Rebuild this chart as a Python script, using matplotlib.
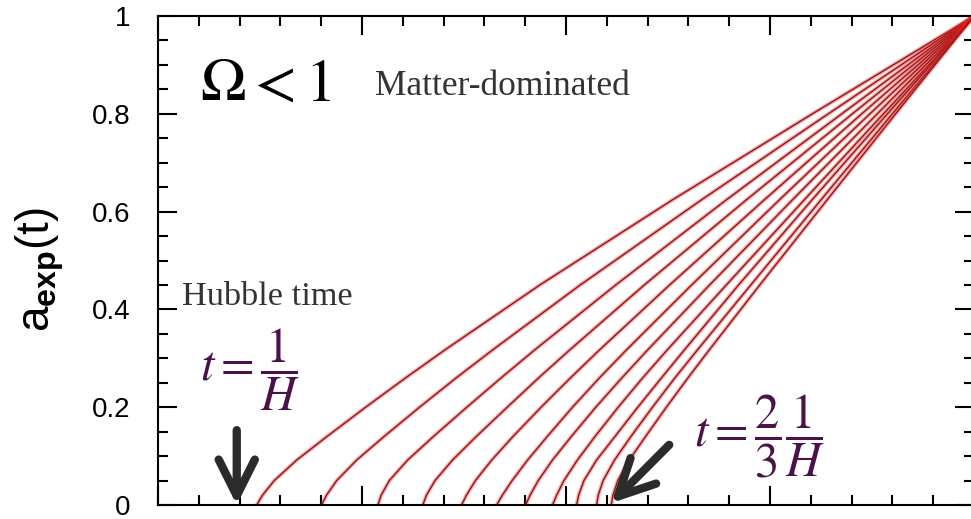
import numpy as np
import matplotlib.pyplot as plt
from matplotlib.ticker import MultipleLocator

a_levels = [0.0, 0.02, 0.05, 0.092, 0.14, 0.2, 0.26, 0.317, 0.45, 0.624, 0.8, 1.0]

# time (in minor-tick units, axis runs 0..20) of each of the 11 curves at those levels
t_a000 = [2.42, 4.01, 5.39, 6.49, 7.44, 8.30, 9.01, 9.67, 10.26, 10.75, 11.11]
t_a002 = [2.56, 4.13, 5.47, 6.58, 7.56, 8.44, 9.12, 9.77, 10.31, 10.79, 11.15]
t_a005 = [2.85, 4.38, 5.67, 6.79, 7.78, 8.68, 9.32, 9.95, 10.44, 10.91, 11.27]
t_a009 = [3.40, 4.87, 6.12, 7.22, 8.18, 9.06, 9.67, 10.28, 10.75, 11.19, 11.55]
t_a014 = [4.14, 5.54, 6.75, 7.80, 8.70, 9.54, 10.13, 10.71, 11.20, 11.59, 11.95]
t_a020 = [5.09, 6.41, 7.57, 8.56, 9.39, 10.16, 10.73, 11.28, 11.76, 12.12, 12.46]
t_a026 = [6.07, 7.31, 8.41, 9.33, 10.11, 10.82, 11.37, 11.88, 12.34, 12.67, 12.99]
t_a032 = [7.03, 8.20, 9.23, 10.09, 10.82, 11.48, 12.00, 12.48, 12.90, 13.22, 13.51]
t_a045 = [9.36, 10.35, 11.22, 11.92, 12.54, 13.08, 13.52, 13.93, 14.23, 14.53, 14.75]
t_a062 = [12.61, 13.32, 13.93, 14.42, 14.86, 15.23, 15.55, 15.84, 16.03, 16.25, 16.40]
t_a080 = [16.04, 16.43, 16.76, 17.02, 17.25, 17.45, 17.63, 17.78, 17.88, 18.00, 18.08]
t_a100 = [20.0] * 11

y_ticks = [0, 0.2, 0.4, 0.6, 0.8, 1]
y_ticklabels = ['0', '0.2', '0.4', '0.6', '0.8', '1']

plt.rcParams['font.family'] = ['Liberation Sans', 'DejaVu Sans']
plt.rcParams['mathtext.fontset'] = 'custom'
plt.rcParams['mathtext.rm'] = 'Liberation Sans'
plt.rcParams['mathtext.bf'] = 'Liberation Sans:bold'
plt.rcParams['mathtext.it'] = 'Liberation Sans:italic'

fig = plt.figure(figsize=(9.71, 5.19), dpi=100)
ax = fig.add_axes([158/971, 14/519, 816/971, 489/519])

table = np.array([t_a000, t_a002, t_a005, t_a009, t_a014, t_a020, t_a026,
                  t_a032, t_a045, t_a062, t_a080, t_a100])
for i in range(table.shape[1]):
    ax.plot(table[:, i], a_levels, color='#ff2020', lw=2.8, alpha=0.4,
            solid_capstyle='round', solid_joinstyle='round')
    ax.plot(table[:, i], a_levels, color='#861c1c', lw=1.0,
            solid_joinstyle='round')

ax.set_xlim(0, 20)
ax.set_ylim(0, 1)
ax.xaxis.set_major_locator(MultipleLocator(5))
ax.xaxis.set_minor_locator(MultipleLocator(1))
ax.set_yticks(y_ticks)
ax.set_yticklabels(y_ticklabels)
ax.yaxis.set_minor_locator(MultipleLocator(0.05))
ax.tick_params(which='both', direction='in', top=True, right=True, width=1.5,
               labelbottom=False, labelsize=20, pad=20)
ax.tick_params(which='major', length=14)
ax.tick_params(which='minor', length=7)
for s in ax.spines.values():
    s.set_linewidth(1.5)

fig.text(40/971, 1 - 270/519, r'$\mathregular{a_{\mathbf{exp}}(t)}$',
         rotation=90, ha='center', va='center', fontsize=33)

ax.text(1.03, 0.828, r'$\Omega<1$', fontsize=44, math_fontfamily='stix',
        ha='left', va='baseline')
ax.text(5.31, 0.838, 'Matter-dominated', family='Liberation Serif',
        fontsize=25.5, color='#333333', ha='left', va='baseline')
ax.text(0.59, 0.409, 'Hubble time', family='Liberation Serif',
        fontsize=24.7, color='#333333', ha='left', va='baseline')

purple = '#4a1249'
ax.text(2.25, 0.276, r'$t=\dfrac{1}{H}$', fontsize=35, math_fontfamily='stix',
        color=purple, ha='center', va='center')
ax.text(14.74, 0.140, r'$t=\dfrac{2}{3}\dfrac{1}{H}$', fontsize=35,
        math_fontfamily='stix', color=purple, ha='center', va='center')

arrow = dict(arrowstyle='->', lw=6, color='#2b2b2b', mutation_scale=65,
             shrinkA=0, shrinkB=0)
ax.annotate('', xy=(1.93, 0.0), xytext=(1.93, 0.153), arrowprops=arrow)
ax.annotate('', xy=(11.11, 0.004), xytext=(12.53, 0.123), arrowprops=arrow)

fig.savefig('out.png', dpi=100)
